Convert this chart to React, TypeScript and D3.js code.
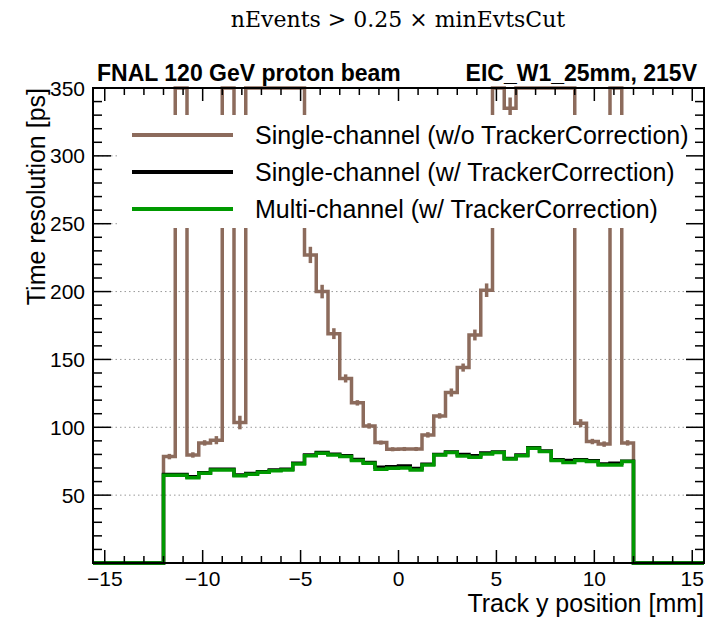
import React from 'react';
import * as d3 from 'd3';

const W = 718;
const H = 623;

const X_MIN = -15.6;
const X_MAX = 15.6;
const BIN_WIDTH = 0.6;
const FIRST_EDGE = -12;
const Y_MAX = 350;
const HIGH = 1000; // off-scale bins

const brownVals = [78.4, HIGH, 79.6, 88.5, 90.5, HIGH, 103.5, HIGH, HIGH, HIGH, HIGH, HIGH, 227, 200, 169, 136, 118, 101, 88.7, 83.8,
  84, 84, 94.4, 108.4, 125.6, 144, 168, 201, HIGH, 335, HIGH, HIGH, HIGH, HIGH, HIGH, 103, 89.5, 87.6, HIGH, 88.5];
const brownErr = [2, 0, 2, 2, 3, 0, 5, 0, 0, 0, 0, 0, 6, 5, 4, 3, 2, 2, 1.5, 1.5,
  1.5, 1.5, 2, 2, 3, 3, 4, 5, 0, 8, 0, 0, 0, 0, 0, 3, 2, 2, 0, 2];
const blackVals = [65.2, 65.2, 63.5, 66.5, 69, 69, 64.8, 66, 67.3, 68.5, 69, 73.5, 79.5, 81.4, 80.2, 79, 76.2, 74, 70.5, 71,
  71.5, 69.7, 72.8, 80, 81.8, 80, 79, 81, 81.8, 77, 79.5, 85, 82.5, 76, 75.5, 76, 75.3, 73, 73.5, 75];
const greenVals = [64.7, 64.7, 62.9, 66.1, 68.6, 68.6, 64.2, 65.4, 66.8, 68.0, 68.6, 73.0, 79.1, 80.9, 79.6, 78.4, 75.5, 73.5, 69.1, 69.8,
  70.0, 68.6, 72.3, 79.6, 81.4, 78.9, 77.9, 80.4, 81.4, 76.7, 79.1, 84.6, 82.1, 75.5, 74.0, 75.5, 74.7, 72.3, 72.3, 74.7];

const xTicks = [-15, -10, -5, 0, 5, 10, 15];
const yTicks = [50, 100, 150, 200, 250, 300, 350];
const gridValues = [50, 100, 150, 200, 250, 300];

const seriesColors = ['#8c6b5c', '#000000', '#009900'];
const legendLabels = [
  'Single-channel (w/o TrackerCorrection)',
  'Single-channel (w/ TrackerCorrection)',
  'Multi-channel (w/ TrackerCorrection)',
];

const title = 'nEvents > 0.25 × minEvtsCut';
const leftLabel = 'FNAL 120 GeV proton beam';
const rightLabel = 'EIC_W1_25mm, 215V';
const xTitle = 'Track y position [mm]';
const yTitle = 'Time resolution [ps]';

const FRAME = { left: 93, right: 704, top: 88, bottom: 563 };
const SANS = "'Liberation Sans', Arial, Helvetica, sans-serif";

export default function App() {
  const x = d3.scaleLinear().domain([X_MIN, X_MAX]).range([FRAME.left, FRAME.right]);
  const y = d3.scaleLinear().domain([0, Y_MAX]).range([FRAME.bottom, FRAME.top]).clamp(true);

  const nBins = Math.round((X_MAX - X_MIN) / BIN_WIDTH);
  const offset = Math.round((FIRST_EDGE - X_MIN) / BIN_WIDTH);
  const full = (vals: number[]) =>
    d3.range(nBins).map((i) => {
      const j = i - offset;
      return j >= 0 && j < vals.length ? vals[j] : 0;
    });
  const stepPath = (vals: number[]) => {
    const f = full(vals);
    const pts: [number, number][] = f.map((v, i) => [X_MIN + i * BIN_WIDTH, v]);
    pts.push([X_MAX, f[f.length - 1]]);
    return d3
      .line<[number, number]>()
      .x((d) => x(d[0]))
      .y((d) => y(d[1]))
      .curve(d3.curveStepAfter)(pts) as string;
  };

  const xMinor = d3.range(-15, 16, 1);
  const yMinor = d3.range(10, Y_MAX, 10);

  const legendYs = [135, 172, 209];

  return (
    <svg width={W} height={H} style={{ position: 'absolute', left: 0, top: 0, background: '#fff' }}>
      <rect x={0} y={0} width={W} height={H} fill="#fff" />
      {/* title */}
      <text x={398} y={27} textAnchor="middle" fontFamily="'DejaVu Serif', serif" fontSize={22} fill="#000">
        {title}
      </text>
      {/* grid */}
      {gridValues.map((v) => (
        <line key={'g' + v} x1={FRAME.left} x2={FRAME.right} y1={y(v)} y2={y(v)} stroke="#999" strokeWidth={1} strokeDasharray="1.5,3" />
      ))}
      {/* histograms */}
      <path d={stepPath(brownVals)} fill="none" stroke={seriesColors[0]} strokeWidth={3.5} />
      {brownVals.map((v, i) =>
        v < Y_MAX && brownErr[i] > 0 ? (
          <line
            key={'e' + i}
            x1={x(FIRST_EDGE + (i + 0.5) * BIN_WIDTH)}
            x2={x(FIRST_EDGE + (i + 0.5) * BIN_WIDTH)}
            y1={y(v - brownErr[i])}
            y2={y(v + brownErr[i])}
            stroke={seriesColors[0]}
            strokeWidth={3.5}
          />
        ) : null
      )}
      <path d={stepPath(blackVals)} fill="none" stroke={seriesColors[1]} strokeWidth={3.5} />
      <path d={stepPath(greenVals)} fill="none" stroke={seriesColors[2]} strokeWidth={3.5} />
      {/* legend */}
      <rect x={118} y={115} width={582} height={113} fill="#fff" />
      {legendLabels.map((lab, i) => (
        <g key={'l' + i}>
          <line x1={132} x2={233} y1={legendYs[i]} y2={legendYs[i]} stroke={seriesColors[i]} strokeWidth={4} />
          <text x={255} y={legendYs[i] + 9} fontFamily={SANS} fontSize={25} fill="#000">
            {lab}
          </text>
        </g>
      ))}
      {/* ticks */}
      {xMinor.map((v) => {
        const major = v % 5 === 0;
        const len = major ? 13 : 7;
        return (
          <g key={'xt' + v}>
            <line x1={x(v)} x2={x(v)} y1={FRAME.bottom} y2={FRAME.bottom - len} stroke="#000" strokeWidth={1.5} />
            <line x1={x(v)} x2={x(v)} y1={FRAME.top} y2={FRAME.top + len} stroke="#000" strokeWidth={1.5} />
          </g>
        );
      })}
      {yMinor.map((v) => {
        const major = v % 50 === 0;
        const len = major ? 18 : 9;
        return (
          <g key={'yt' + v}>
            <line x1={FRAME.left} x2={FRAME.left + len} y1={y(v)} y2={y(v)} stroke="#000" strokeWidth={1.5} />
            <line x1={FRAME.right} x2={FRAME.right - len} y1={y(v)} y2={y(v)} stroke="#000" strokeWidth={1.5} />
          </g>
        );
      })}
      {/* frame */}
      <rect x={FRAME.left} y={FRAME.top} width={FRAME.right - FRAME.left} height={FRAME.bottom - FRAME.top} fill="none" stroke="#000" strokeWidth={2} />
      {/* tick labels */}
      {xTicks.map((v) => (
        <text key={'xl' + v} x={x(v)} y={586} textAnchor="middle" fontFamily={SANS} fontSize={21} fill="#000">
          {v < 0 ? '\u2212' + Math.abs(v) : String(v)}
        </text>
      ))}
      {yTicks.map((v) => (
        <text key={'yl' + v} x={85} y={y(v) + 7.5} textAnchor="end" fontFamily={SANS} fontSize={21} fill="#000">
          {v}
        </text>
      ))}
      {/* axis titles */}
      <text x={704} y={612} textAnchor="end" fontFamily={SANS} fontSize={25} fill="#000">
        {xTitle}
      </text>
      <text transform={`translate(45, ${FRAME.top}) rotate(-90)`} textAnchor="end" fontFamily={SANS} fontSize={25} fill="#000">
        {yTitle}
      </text>
      {/* labels */}
      <text x={97} y={81} fontFamily={SANS} fontWeight="bold" fontSize={23} fill="#000">
        {leftLabel}
      </text>
      <text x={697} y={81} textAnchor="end" fontFamily={SANS} fontWeight="bold" fontSize={23} fill="#000">
        {rightLabel}
      </text>
    </svg>
  );
}
